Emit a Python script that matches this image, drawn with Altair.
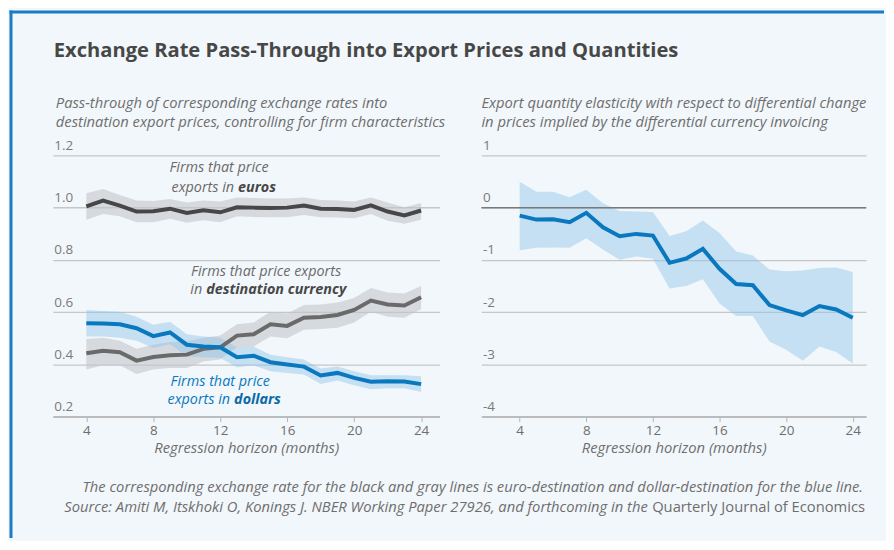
import altair as alt
import pandas as pd

FONT = "Open Sans"
BG = "#f2f7fb"
BLUE = "#0a78bf"
DARK = "#474747"
MID = "#6a6a6a"
TS = 14.8  # italic text size
LS = 14.4  # in-chart label size

months = list(range(4, 25))

# Left panel: pass-through into export prices
euro_est = [1.005, 1.027, 1.008, 0.985, 0.986, 0.996, 0.980, 0.990, 0.982, 1.001, 1.000,
            0.999, 1.000, 1.008, 0.996, 0.995, 0.991, 1.009, 0.985, 0.970, 0.989]
euro_hi = [1.055, 1.071, 1.048, 1.027, 1.025, 1.033, 1.020, 1.027, 1.023, 1.039, 1.037,
           1.035, 1.035, 1.039, 1.029, 1.027, 1.023, 1.039, 1.020, 1.001, 1.018]
euro_lo = [0.954, 0.976, 0.967, 0.944, 0.944, 0.957, 0.942, 0.952, 0.944, 0.967, 0.964,
           0.963, 0.963, 0.972, 0.963, 0.962, 0.959, 0.976, 0.950, 0.938, 0.954]

dest_est = [0.442, 0.452, 0.446, 0.414, 0.428, 0.435, 0.437, 0.459, 0.465, 0.510, 0.515,
            0.553, 0.547, 0.578, 0.581, 0.589, 0.608, 0.644, 0.629, 0.625, 0.657]
dest_hi = [0.497, 0.502, 0.490, 0.460, 0.475, 0.485, 0.487, 0.502, 0.510, 0.553, 0.560,
           0.601, 0.595, 0.627, 0.629, 0.637, 0.654, 0.692, 0.675, 0.671, 0.700]
dest_lo = [0.380, 0.396, 0.396, 0.363, 0.380, 0.386, 0.386, 0.411, 0.418, 0.465, 0.468,
           0.506, 0.500, 0.532, 0.535, 0.540, 0.560, 0.601, 0.582, 0.578, 0.611]

usd_est = [0.557, 0.556, 0.553, 0.538, 0.508, 0.522, 0.475, 0.468, 0.465, 0.427, 0.433,
           0.408, 0.399, 0.391, 0.357, 0.367, 0.348, 0.333, 0.335, 0.334, 0.324]
usd_hi = [0.608, 0.604, 0.601, 0.582, 0.551, 0.563, 0.515, 0.506, 0.502, 0.465, 0.468,
          0.437, 0.427, 0.418, 0.384, 0.392, 0.373, 0.358, 0.358, 0.358, 0.354]
usd_lo = [0.506, 0.506, 0.502, 0.490, 0.462, 0.477, 0.430, 0.427, 0.424, 0.389, 0.396,
          0.373, 0.367, 0.361, 0.325, 0.338, 0.320, 0.304, 0.308, 0.308, 0.294]

# Right panel: export quantity elasticity
qty_est = [-0.153, -0.229, -0.223, -0.280, -0.100, -0.376, -0.548, -0.503, -0.535, -1.057, -0.975,
           -0.790, -1.171, -1.462, -1.487, -1.867, -1.968, -2.057, -1.886, -1.950, -2.108]
qty_hi = [0.497, 0.306, 0.306, 0.197, 0.344, 0.083, -0.064, -0.076, -0.083, -0.541, -0.452,
          -0.248, -0.484, -0.840, -0.917, -1.185, -1.220, -1.203, -1.158, -1.146, -1.234]
qty_lo = [-0.815, -0.770, -0.764, -0.770, -0.586, -0.800, -1.000, -0.936, -0.980, -1.550, -1.500,
          -1.373, -1.835, -2.076, -2.076, -2.563, -2.720, -2.930, -2.660, -2.766, -2.987]

series_names = ["euros", "destination", "dollars"]
line_colors = [DARK, MID, BLUE]

left_ticks = [0.2, 0.4, 0.6, 0.8, 1.0, 1.2]
right_ticks = [-4, -3, -2, -1, 0, 1]
x_ticks = [4, 8, 12, 16, 20, 24]

# In-chart labels (line 1 / line 2 with bold keyword)
lab_text = ["Firms that price", "exports in", "euros",
            "Firms that price exports", "in", "destination currency",
            "Firms that price", "exports in", "dollars"]
lab_month = [11.93, 12.83, 12.83, 14.74, 10.92, 10.92, 12.0, 12.59, 12.59]
lab_value = [1.152, 1.077, 1.077, 0.753, 0.684, 0.684, 0.332, 0.264, 0.264]
lab_kind = ["center", "right", "bold", "center", "right", "bold", "center", "right", "bold"]
lab_color = [MID, MID, DARK, MID, MID, DARK, BLUE, BLUE, "#0a6aa8"]

title_text = "Exchange Rate Pass-Through into Export Prices and Quantities"
left_sub = ["Pass-through of corresponding exchange rates into",
            "destination export prices, controlling for firm characteristics"]
right_sub = ["Export quantity elasticity with respect to differential change",
             "in prices implied by the differential currency invoicing"]
foot1 = "The corresponding exchange rate for the black and gray lines is euro-destination and dollar-destination for the blue line."
foot2a = "Source: Amiti M, Itskhoki O, Konings J. NBER Working Paper 27926, and forthcoming in the"
foot2b = "Quarterly Journal of Economics"

# ---- data tables ----
rows = []
for name, est, lo, hi in [("euros", euro_est, euro_lo, euro_hi),
                          ("destination", dest_est, dest_lo, dest_hi),
                          ("dollars", usd_est, usd_lo, usd_hi)]:
    for m, e, l, h in zip(months, est, lo, hi):
        rows.append({"month": m, "series": name, "est": e, "lo": l, "hi": h})
left_df = pd.DataFrame(rows)
right_df = pd.DataFrame({"month": months, "est": qty_est, "lo": qty_lo, "hi": qty_hi})
lab_df = pd.DataFrame({"month": lab_month, "est": lab_value, "text": lab_text,
                       "kind": lab_kind, "color": lab_color})
one = pd.DataFrame({"k": [0]})

LW, RW, H = 388, 386, 262


def xenc(domain, field="month"):
    return alt.X(f"{field}:Q", scale=alt.Scale(domain=domain, nice=False, zero=False),
                 axis=alt.Axis(values=x_ticks, grid=False, domain=True, domainColor="#b5b5b5",
                               domainWidth=1.5, ticks=True, tickColor="#b5b5b5", tickSize=5,
                               labelColor="#6e6e6e", labelFontSize=13.5, labelPadding=2,
                               labelFont=FONT, title="Regression horizon (months)",
                               titleFont=FONT, titleFontSize=TS, titleFontStyle="italic",
                               titleFontWeight="normal", titleColor="#6e6e6e", titlePadding=4))


def yenc(field, domain, ticks, expr):
    return alt.Y(f"{field}:Q", scale=alt.Scale(domain=domain, nice=False, zero=False),
                 axis=alt.Axis(values=ticks, grid=True, gridColor="#c6c6c6", gridWidth=1.3,
                               domain=False, ticks=False, labelAlign="left",
                               labelBaseline="alphabetic", labelPadding=-1, labelOffset=-6,
                               labelExpr=expr, labelColor="#7a7a7a", labelFontSize=13.5,
                               labelFont=FONT, title=None))


LX = [2.0, 25.1]
RX = [1.7, 24.8]
LY = [0.2, 1.2]
RY = [-4, 1]
lexpr = "format(datum.value, '.1f')"
rexpr = "'' + datum.value"

color_scale = alt.Scale(domain=series_names, range=line_colors)

bands_gray = alt.Chart(left_df).transform_filter(alt.datum.series != "dollars").mark_area(
    opacity=0.6, color="#c3c7cb").encode(
    x=xenc(LX), y=yenc("lo", LY, left_ticks, lexpr), y2="hi:Q", detail="series:N")
band_blue = alt.Chart(left_df).transform_filter(alt.datum.series == "dollars").mark_area(
    opacity=0.45, color="#8fc4e8").encode(
    x=xenc(LX), y=yenc("lo", LY, left_ticks, lexpr), y2="hi:Q")
lines = alt.Chart(left_df).mark_line(strokeWidth=4).encode(
    x=xenc(LX), y=yenc("est", LY, left_ticks, lexpr),
    color=alt.Color("series:N", scale=color_scale, legend=None), detail="series:N")


def label_layer(kind, align, weight, dx=0):
    return alt.Chart(lab_df).transform_filter(alt.datum.kind == kind).mark_text(
        align=align, baseline="middle", fontStyle="italic", fontWeight=weight,
        fontSize=LS, font=FONT, dx=dx).encode(
        x=xenc(LX), y=yenc("est", LY, left_ticks, lexpr), text="text:N",
        color=alt.Color("color:N", scale=None))


def txt(text, x, y, size=TS, align="left", style="italic", weight="normal", color="#6e6e6e"):
    return alt.Chart(one).mark_text(
        align=align, baseline="middle", fontSize=size, fontStyle=style, fontWeight=weight,
        font=FONT, color=color).encode(x=alt.value(x), y=alt.value(y), text=alt.value(text))


border_v = alt.Chart(one).mark_rule(color="#1a7cc4", strokeWidth=3).encode(
    x=alt.value(-42), y=alt.value(-145.5), y2=alt.value(384))
border_h = alt.Chart(one).mark_rule(color="#1a7cc4", strokeWidth=3).encode(
    x=alt.value(-43.5), x2=alt.value(834), y=alt.value(-144))

left = alt.layer(
    bands_gray, band_blue, lines,
    label_layer("center", "center", "normal"),
    label_layer("right", "right", "normal"),
    label_layer("bold", "left", "bold", dx=4),
    border_v, border_h,
    txt(title_text, 1, -105, size=20.2, style="normal", weight="bold", color="#474747"),
    txt(left_sub[0], 3, -52),
    txt(left_sub[1], 3, -33),
).properties(width=LW, height=H)

r_band = alt.Chart(right_df).mark_area(color="#8fc4e8", opacity=0.45).encode(
    x=xenc(RX), y=yenc("lo", RY, right_ticks, rexpr), y2="hi:Q")
r_zero = alt.Chart(one).mark_rule(color="#7a7a7a", strokeWidth=1.5).encode(y=alt.datum(0))
r_line = alt.Chart(right_df).mark_line(strokeWidth=4, color=BLUE).encode(
    x=xenc(RX), y=yenc("est", RY, right_ticks, rexpr))

right = alt.layer(
    r_band, r_zero, r_line,
    txt(right_sub[0], 0, -52),
    txt(right_sub[1], 0, -33),
    txt(foot1, 383, 334, align="right"),
    txt(foot2b, 385, 354, align="right", style="normal"),
    txt(foot2a, 167, 354, align="right"),
).properties(width=RW, height=H)

chart = alt.hconcat(left, right, spacing=42, bounds="flush").properties(
    padding=0
).configure(background=BG).configure_view(stroke=None)

chart.save("out.html", embed_options={"renderer": "svg", "actions": False})
